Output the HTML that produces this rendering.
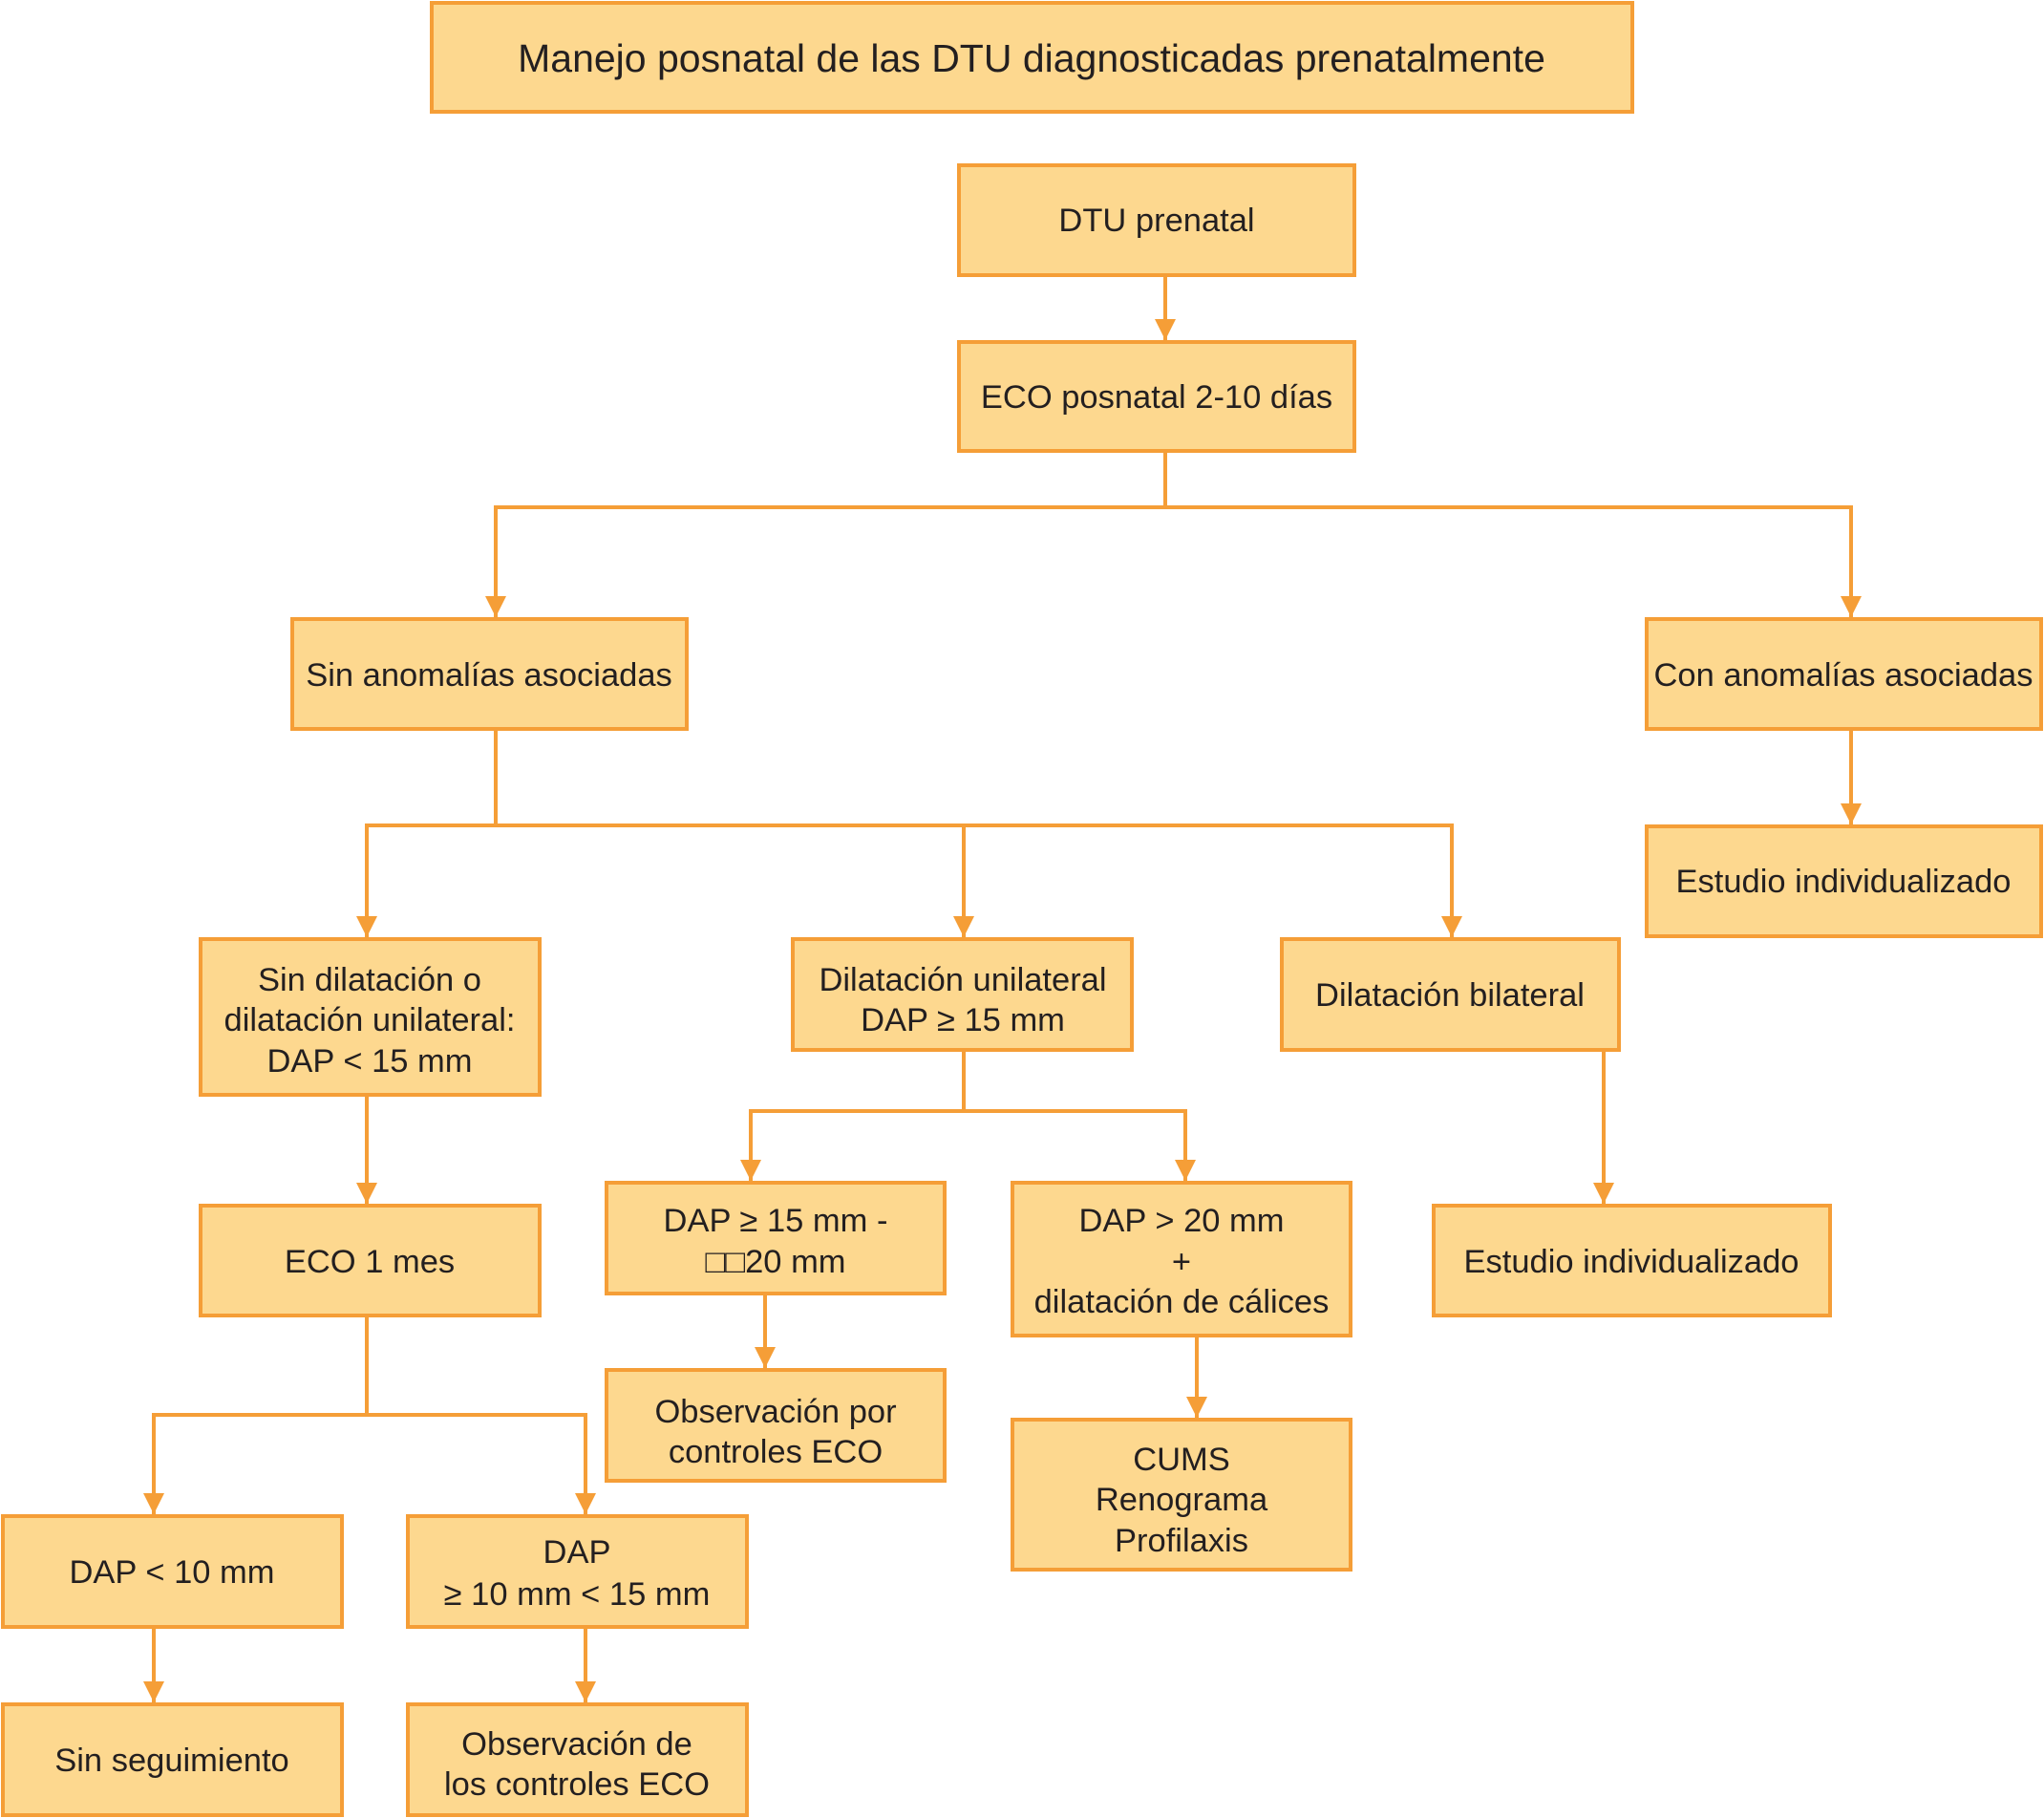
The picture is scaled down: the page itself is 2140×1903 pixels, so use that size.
<!DOCTYPE html>
<html><head><meta charset="utf-8"><style>
html,body{margin:0;padding:0;background:#fff;}
svg{display:block}
text{font-family:"Liberation Sans",sans-serif;fill:#231f20;text-anchor:middle;font-size:34.5px}
</style></head><body>
<svg width="2140" height="1903" viewBox="0 0 2140 1903" xmlns="http://www.w3.org/2000/svg">
<defs>
<marker id="a" viewBox="0 0 10 10" refX="10" refY="5" markerWidth="5.5" markerHeight="5.5" markerUnits="strokeWidth" orient="auto"><path d="M0,0 L10,5 L0,10 z" fill="#F59E37"/></marker>
</defs>
<g fill="#FDD88F" stroke="#F59E37" stroke-width="4">
<rect x="452" y="3" width="1257" height="114"/>
<rect x="1004" y="173" width="414" height="115"/>
<rect x="1004" y="358" width="414" height="114"/>
<rect x="306" y="648" width="413" height="115"/>
<rect x="1724" y="648" width="413" height="115"/>
<rect x="1724" y="865" width="413" height="115"/>
<rect x="210" y="983" width="355" height="163"/>
<rect x="830" y="983" width="355" height="116"/>
<rect x="1342" y="983" width="353" height="116"/>
<rect x="1501" y="1262" width="415" height="115"/>
<rect x="635" y="1238" width="354" height="116"/>
<rect x="1060" y="1238" width="354" height="160"/>
<rect x="635" y="1434" width="354" height="116"/>
<rect x="1060" y="1486" width="354" height="157"/>
<rect x="210" y="1262" width="355" height="115"/>
<rect x="3" y="1587" width="355" height="116"/>
<rect x="427" y="1587" width="355" height="116"/>
<rect x="3" y="1784" width="355" height="116"/>
<rect x="427" y="1784" width="355" height="116"/>
</g>
<g fill="none" stroke="#F59E37" stroke-width="4">
<path d="M1220 288V356" marker-end="url(#a)"/>
<path d="M1220 472V531H519V646" marker-end="url(#a)"/>
<path d="M1220 531H1938V646" marker-end="url(#a)"/>
<path d="M1938 763V863" marker-end="url(#a)"/>
<path d="M519 763V864H384V981" marker-end="url(#a)"/>
<path d="M519 864H1009V981" marker-end="url(#a)"/>
<path d="M1009 864H1520V981" marker-end="url(#a)"/>
<path d="M1679 1099V1260" marker-end="url(#a)"/>
<path d="M1009 1099V1163H786V1236" marker-end="url(#a)"/>
<path d="M1009 1163H1241V1236" marker-end="url(#a)"/>
<path d="M801 1354V1432" marker-end="url(#a)"/>
<path d="M1253 1398V1484" marker-end="url(#a)"/>
<path d="M384 1146V1260" marker-end="url(#a)"/>
<path d="M384 1377V1481H161V1585" marker-end="url(#a)"/>
<path d="M384 1481H613V1585" marker-end="url(#a)"/>
<path d="M161 1703V1782" marker-end="url(#a)"/>
<path d="M613 1703V1782" marker-end="url(#a)"/>
</g>
<text x="1080" y="75" style="font-size:41px">Manejo posnatal de las DTU diagnosticadas prenatalmente</text>
<text x="1211" y="242">DTU prenatal</text>
<text x="1211" y="427">ECO posnatal 2-10 días</text>
<text x="512" y="718">Sin anomalías asociadas</text>
<text x="1930" y="718">Con anomalías asociadas</text>
<text x="1930" y="934">Estudio individualizado</text>
<text x="387" y="1037">Sin dilatación o</text>
<text x="387" y="1079">dilatación unilateral:</text>
<text x="387" y="1122">DAP &lt; 15 mm</text>
<text x="1008" y="1037">Dilatación unilateral</text>
<text x="1008" y="1079">DAP ≥ 15 mm</text>
<text x="1518" y="1053">Dilatación bilateral</text>
<text x="1708" y="1332">Estudio individualizado</text>
<text x="812" y="1289">DAP ≥ 15 mm -</text>
<text x="812" y="1332">□□20 mm</text>
<text x="1237" y="1289">DAP &gt; 20 mm</text>
<text x="1237" y="1332">+</text>
<text x="1237" y="1374">dilatación de cálices</text>
<text x="812" y="1489">Observación por</text>
<text x="812" y="1531">controles ECO</text>
<text x="1237" y="1539">CUMS</text>
<text x="1237" y="1581">Renograma</text>
<text x="1237" y="1624">Profilaxis</text>
<text x="387" y="1332">ECO 1 mes</text>
<text x="180" y="1657">DAP &lt; 10 mm</text>
<text x="604" y="1636">DAP</text>
<text x="604" y="1680">≥ 10 mm &lt; 15 mm</text>
<text x="180" y="1854">Sin seguimiento</text>
<text x="604" y="1837">Observación de</text>
<text x="604" y="1879">los controles ECO</text>
</svg>
</body></html>
